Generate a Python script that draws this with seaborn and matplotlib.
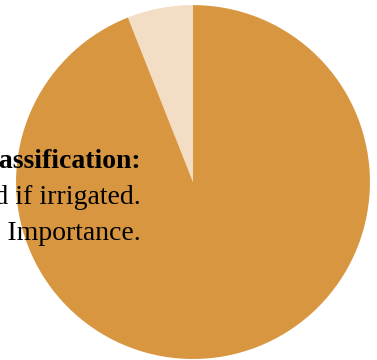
import matplotlib
matplotlib.use("Agg")
import matplotlib.pyplot as plt
import seaborn as sns

labels = ["Prime farmland if irrigated", "Farmland of Statewide Importance"]
shares = [6, 94]
colors = ["#f3ddc4", "#d7963f"]

title_line = "Farmland Classification:"
detail_lines = ["Prime farmland if irrigated.", "Farmland of Statewide Importance."]

sns.set_theme(style="white")
plt.rcParams["font.family"] = ["Liberation Serif", "DejaVu Serif"]

fig = plt.figure(figsize=(3.77, 3.6), dpi=100)
ax = fig.add_axes([0.0424, 0.0028, 0.939, 0.983])
ax.pie(shares, colors=colors, startangle=90, counterclock=True, radius=1,
       wedgeprops=dict(linewidth=0))
ax.set_xlim(-1, 1)
ax.set_ylim(-1, 1)
ax.set_aspect("equal")
ax.axis("off")

# text block is right-aligned and runs off the left edge, as in the original
x_right = 141 / 377
fig.text(x_right, 1 - 168 / 360, title_line, ha="right", va="baseline",
         fontsize=20, fontweight="bold", color="black")
for i, line in enumerate(detail_lines):
    fig.text(x_right, 1 - (204 + 36 * i) / 360, line, ha="right", va="baseline",
             fontsize=20, color="black")

fig.savefig("out.png", dpi=100)
